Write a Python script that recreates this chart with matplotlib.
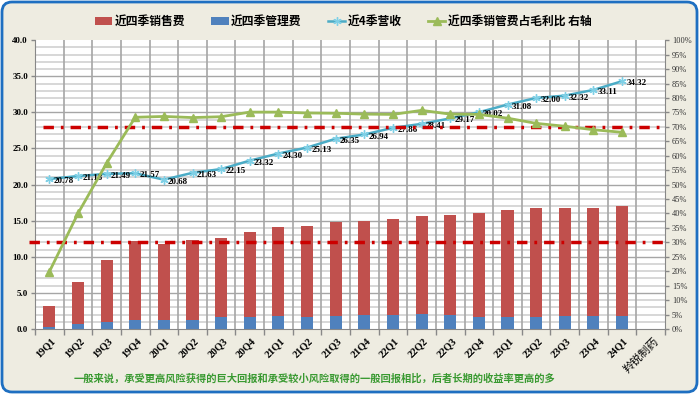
import matplotlib
matplotlib.use("Agg")
import matplotlib.pyplot as plt
from matplotlib.patches import FancyBboxPatch, Patch
from matplotlib.lines import Line2D
from matplotlib.transforms import IdentityTransform, blended_transform_factory
import numpy as np

categories = ["19Q1", "19Q2", "19Q3", "19Q4", "20Q1", "20Q2", "20Q3", "20Q4",
              "21Q1", "21Q2", "21Q3", "21Q4", "22Q1", "22Q2", "22Q3", "22Q4",
              "23Q1", "23Q2", "23Q3", "23Q4", "24Q1", "羚锐制药"]
admin_fee = [0.3, 0.7, 1.0, 1.3, 1.25, 1.3, 1.6, 1.7, 1.8, 1.65, 1.8, 1.95, 2.0,
             2.1, 1.9, 1.7, 1.65, 1.7, 1.8, 1.8, 1.8]
sales_fee = [2.9, 5.8, 8.5, 10.9, 10.55, 11.0, 11.0, 11.8, 12.3, 12.65, 13.0,
             12.95, 13.2, 13.6, 13.9, 14.4, 14.85, 15.0, 14.9, 15.0, 15.3]
revenue = [20.78, 21.18, 21.49, 21.57, 20.68, 21.63, 22.15, 23.32, 24.30, 25.13,
           26.35, 26.94, 27.86, 28.41, 29.17, 30.02, 31.08, 32.00, 32.32, 33.11, 34.32]
ratio = [19.8, 40.0, 57.4, 73.3, 73.6, 73.2, 73.5, 75.1, 75.1, 74.8, 74.7, 74.4,
         74.3, 75.7, 74.4, 74.3, 73.0, 71.2, 70.2, 69.0, 68.1]
ref_lines = [70, 30]
legend_labels = ["近四季销售费", "近四季管理费", "近4季营收", "近四季销管费占毛利比 右轴"]
note = "一般来说，承受更高风险获得的巨大回报和承受较小风险取得的一般回报相比，后者长期的收益率更高的多"

RED = "#C0504D"
BLUE = "#4F81BD"
CYAN = "#4BACC6"
GREEN = "#9BBB59"
DASHRED = "#CC0000"
SERIF = ["Liberation Serif", "Noto Sans CJK SC"]
CJK = ["Noto Sans CJK SC", "DejaVu Sans"]

fig = plt.figure(figsize=(7.0, 3.94), dpi=100)
fig.patch.set_facecolor("white")
border = FancyBboxPatch((2, 2), 695, 390, boxstyle="round,pad=0,rounding_size=10",
                        transform=IdentityTransform(), facecolor="#EEECE1",
                        edgecolor="#1E6FC1", linewidth=2.0, zorder=-10)
fig.patches.append(border)

ax = fig.add_axes([0.05, 0.165, 0.90, 0.733])
ax.set_facecolor("white")
n = len(categories)
x = np.arange(n)
xd = np.arange(len(revenue))

ax.set_xlim(-0.5, n - 0.5)
ax.set_ylim(0, 40)

# grid
for v in np.arange(1, 40, 1):
    if v % 5 == 0:
        ax.axhline(v, color="#A6A6A6", lw=1.0, zorder=0)
    else:
        ax.axhline(v, color="#D4D4D4", lw=1.3, zorder=0)
for b in np.arange(0.5, n - 0.5, 1):
    ax.axvline(b, color="#A6A6A6", lw=1.2, zorder=0)

bw = 0.42
ax.bar(xd, admin_fee, width=bw, color=BLUE, zorder=2, edgecolor="none")
ax.bar(xd, sales_fee, bottom=admin_fee, width=bw, color=RED, zorder=2, edgecolor="none")

ax.plot(xd, revenue, color=CYAN, lw=1.8, marker=(6, 2, 0), ms=6, mew=1.0,
        mec="#7FD0E6", zorder=4)
for xi, v in zip(xd, revenue):
    ax.annotate(f"{v:.2f}", (xi, v), xytext=(3, -1.5), textcoords="offset points",
                ha="left", va="center", fontsize=6.5, fontweight="bold",
                family=SERIF, color="black", zorder=6)

ax.set_yticks(np.arange(0, 41, 5))
ax.set_yticklabels([f"{v:.1f}" for v in np.arange(0, 41, 5)], fontsize=6.5,
                   fontweight="bold", family=SERIF)
ax.set_xticks(np.arange(-0.5, n, 1), minor=False)
ax.set_xticklabels([])
ax.tick_params(axis="x", length=4, color="#888888", width=1.0)
ax.tick_params(axis="y", length=3, color="#888888", width=1.0, pad=2)
for i, c in enumerate(categories):
    if i < len(revenue):
        ax.text(i + 0.05, -1.0, c, rotation=45, ha="right", va="top",
                fontsize=7.5, fontweight="bold", family=SERIF,
                rotation_mode="anchor", color="black")
    else:
        ax.text(i + 0.1, -1.0, c, rotation=45, ha="right", va="top",
                fontsize=8, fontweight="normal", family=CJK,
                rotation_mode="anchor", color="black")

for s in ["top", "right"]:
    ax.spines[s].set_visible(False)
ax.spines["left"].set_color("#888888")
ax.spines["bottom"].set_color("#888888")

ax2 = ax.twinx()
ax2.set_ylim(0, 100)
ax2.set_yticks(np.arange(0, 101, 5))
ax2.set_yticklabels([f"{v}%" for v in range(0, 101, 5)], fontsize=6, family=SERIF,
                    color="#333333")
ax2.tick_params(axis="y", length=3, color="#888888", width=1.0, pad=2)
for s in ["top", "left", "bottom"]:
    ax2.spines[s].set_visible(False)
ax2.spines["right"].set_color("#888888")

trans = blended_transform_factory(ax2.transAxes, ax2.transData)
starts = [0.013, -0.01]
for yv, st in zip(ref_lines, starts):
    ax2.plot([st, 1.0], [yv, yv], transform=trans, color=DASHRED, lw=2.5,
             linestyle=(0, (3.0, 2.0, 0.8, 2.0)), zorder=3, clip_on=False)

ax2.plot(xd, ratio, color=GREEN, lw=2.0, marker="^", ms=6, zorder=5)

handles = [Patch(facecolor=RED, edgecolor="none"),
           Patch(facecolor=BLUE, edgecolor="none"),
           Line2D([], [], color=CYAN, lw=1.8, marker=(6, 2, 0), ms=6, mec="#7FD0E6"),
           Line2D([], [], color=GREEN, lw=2.0, marker="^", ms=6)]
fig.legend(handles, legend_labels, loc="center", bbox_to_anchor=(0.49, 0.945),
           ncol=4, frameon=False, handlelength=1.5, handletextpad=0.2,
           columnspacing=2.2, prop={"family": CJK, "size": 8.5, "weight": "bold"})

fig.text(0.45, 0.04, note, ha="center", va="center", fontsize=7.4,
         fontweight="bold", family=CJK, color="#3A9A32")

fig.savefig("out.png", dpi=100)
